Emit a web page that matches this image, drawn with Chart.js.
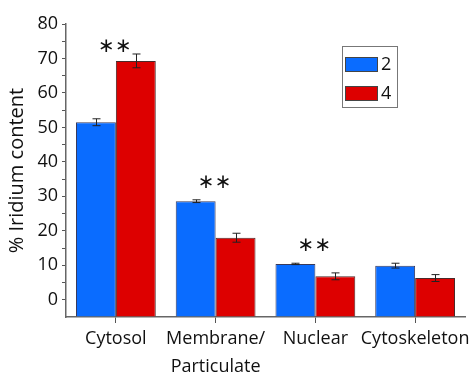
<!DOCTYPE html>
<html>
<head>
<meta charset="utf-8">
<script src="https://cdn.jsdelivr.net/npm/chart.js@4"></script>
<style>
  html, body { margin: 0; padding: 0; background: #fff; }
  #wrap { width: 476px; height: 374px; }
</style>
</head>
<body>
<div id="wrap"><canvas id="barChart" width="476" height="374"></canvas></div>
<script>
const categories = ['Cytosol', ['Membrane/', 'Particulate'], 'Nuclear', 'Cytoskeleton'];
const seriesNames = ['2', '4'];
const values2 = [51.5, 28.6, 10.4, 9.9];
const values4 = [69.3, 18.0, 6.8, 6.3];
const errors2 = [1.0, 0.4, 0.2, 0.7];
const errors4 = [2.0, 1.3, 1.0, 1.0];
const starLabels = ['**', '**', '**', ''];
const starValues = [73.3, 33.8, 15.8, 0];

const FONT = "'Open Sans', sans-serif";

// error bars drawn on top of each bar
const errorBars = {
  id: 'errorBars',
  afterDatasetsDraw(chart) {
    const ctx = chart.ctx;
    const y = chart.scales.y;
    const errs = [errors2, errors4];
    ctx.save();
    ctx.lineWidth = 1;
    ctx.strokeStyle = '#222';
    chart.data.datasets.forEach((ds, i) => {
      chart.getDatasetMeta(i).data.forEach((bar, j) => {
        const v = ds.data[j], e = errs[i][j];
        const x = Math.round(bar.x) + 0.5;
        const top = y.getPixelForValue(v + e), bot = y.getPixelForValue(v - e);
        ctx.beginPath();
        ctx.moveTo(x, top); ctx.lineTo(x, bot);
        ctx.moveTo(x - 4, top); ctx.lineTo(x + 4, top);
        ctx.moveTo(x - 4, bot); ctx.lineTo(x + 4, bot);
        ctx.stroke();
      });
    });
    ctx.restore();
  }
};

// significance stars and legend box
const extras = {
  id: 'extras',
  afterDraw(chart) {
    const ctx = chart.ctx;
    const xs = chart.scales.x, ys = chart.scales.y;
    ctx.save();
    ctx.fillStyle = '#111';
    ctx.font = "20px 'DejaVu Sans', sans-serif";
    ctx.textAlign = 'center';
    ctx.textBaseline = 'middle';
    starLabels.forEach((s, i) => {
      if (!s) return;
      ctx.fillText('\u2217\u2217', xs.getPixelForValue(i) - 1, ys.getPixelForValue(starValues[i]));
    });

    // legend
    const lx = 342, ly = 46, lw = 55, lh = 61;
    ctx.strokeStyle = '#777';
    ctx.lineWidth = 1;
    ctx.strokeRect(lx + 0.5, ly + 0.5, lw, lh);
    ctx.font = '18px ' + FONT;
    ctx.textAlign = 'left';
    chart.data.datasets.forEach((ds, i) => {
      const ry = ly + 11 + i * 29;
      ctx.fillStyle = ds.backgroundColor;
      ctx.fillRect(lx + 3, ry, 33, 15);
      ctx.strokeStyle = '#444';
      ctx.strokeRect(lx + 3.5, ry + 0.5, 32, 14);
      ctx.fillStyle = '#111';
      ctx.fillText(ds.label, lx + 39, ry + 8);
    });
    ctx.restore();
  }
};

new Chart(document.getElementById('barChart'), {
  type: 'bar',
  data: {
    labels: categories,
    datasets: [
      { label: seriesNames[0], data: values2, base: -5, backgroundColor: '#0a6cff', borderColor: '#3a3a5a', borderWidth: 1 },
      { label: seriesNames[1], data: values4, base: -5, backgroundColor: '#dd0000', borderColor: '#4a2a2a', borderWidth: 1 }
    ]
  },
  options: {
    responsive: false,
    animation: false,
    layout: { padding: { top: 24, right: 11, left: 0, bottom: 0 } },
    datasets: { bar: { categoryPercentage: 0.8, barPercentage: 1.0 } },
    plugins: {
      legend: { display: false },
      tooltip: { enabled: false }
    },
    scales: {
      x: {
        grid: { offset: false, drawOnChartArea: false, tickLength: 6, color: '#555' },
        border: { color: '#666', width: 1.5 },
        ticks: { color: '#111', font: { family: FONT, size: 18, lineHeight: 1.6 }, padding: 1, maxRotation: 0, autoSkip: false },
        afterFit(s) { s.height = 57; }
      },
      y: {
        min: -5, max: 80,
        grid: {
          drawOnChartArea: false, tickLength: 4,
          color: c => c.tick.value < 0 ? 'rgba(0,0,0,0)' : '#555'
        },
        border: { color: '#666', width: 1.5 },
        ticks: {
          stepSize: 5, maxTicksLimit: 30, autoSkip: false, color: '#111', padding: 4,
          font: { family: FONT, size: 18 },
          callback: v => (v >= 0 && v % 10 === 0) ? v : ''
        },
        title: { display: true, text: '% Iridium content', color: '#111', font: { family: FONT, size: 20 }, padding: { top: 5, bottom: 0 } },
        afterFit(s) { s.width = 66; }
      }
    }
  },
  plugins: [errorBars, extras]
});
</script>
</body>
</html>
